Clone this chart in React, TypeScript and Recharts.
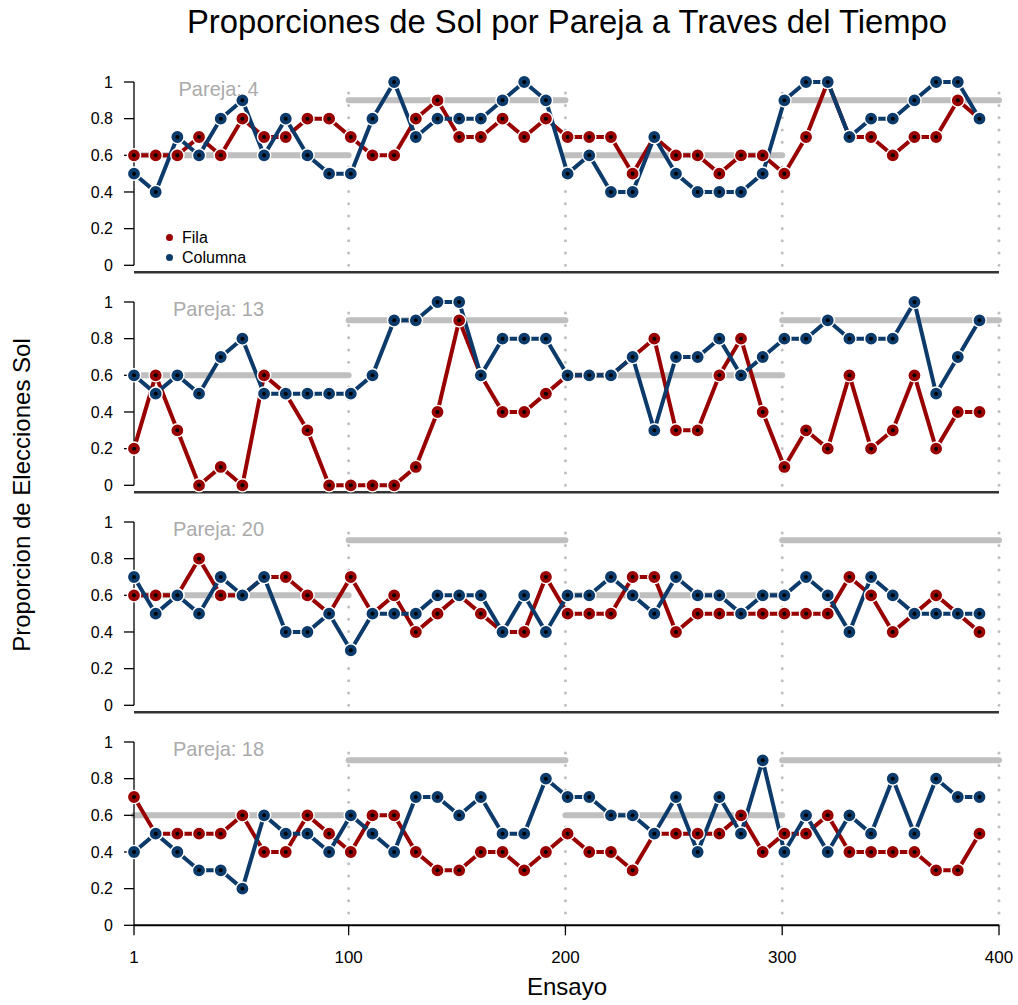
import React from "react";
import {
  Legend,
  Line,
  LineChart,
  ReferenceDot,
  ReferenceLine,
  XAxis,
  YAxis,
} from "recharts";

const FONT = '"Liberation Sans", Arial, Helvetica, sans-serif';
const RED = "#990000";
const BLUE = "#0b3a6b";
const GREY = "#bfbfbf";

// trial number of each block of 10
const TRIALS = [
  1, 11, 21, 31, 41, 51, 61, 71, 81, 91, 101, 111, 121, 131, 141, 151, 161, 171, 181, 191,
  201, 211, 221, 231, 241, 251, 261, 271, 281, 291, 301, 311, 321, 331, 341, 351, 361, 371, 381, 391,
];

const PAREJAS = [4, 13, 20, 18];
const SERIES_ORDER = ["Fila", "Columna"];

const FILA_4 = [
  0.6, 0.6, 0.6, 0.7, 0.6, 0.8, 0.7, 0.7, 0.8, 0.8, 0.7, 0.6, 0.6, 0.8, 0.9, 0.7, 0.7, 0.8, 0.7, 0.8,
  0.7, 0.7, 0.7, 0.5, 0.7, 0.6, 0.6, 0.5, 0.6, 0.6, 0.5, 0.7, 1.0, 0.7, 0.7, 0.6, 0.7, 0.7, 0.9, 0.8,
];
const COLUMNA_4 = [
  0.5, 0.4, 0.7, 0.6, 0.8, 0.9, 0.6, 0.8, 0.6, 0.5, 0.5, 0.8, 1.0, 0.7, 0.8, 0.8, 0.8, 0.9, 1.0, 0.9,
  0.5, 0.6, 0.4, 0.4, 0.7, 0.5, 0.4, 0.4, 0.4, 0.5, 0.9, 1.0, 1.0, 0.7, 0.8, 0.8, 0.9, 1.0, 1.0, 0.8,
];

const FILA_13 = [
  0.2, 0.6, 0.3, 0, 0.1, 0, 0.6, 0.5, 0.3, 0, 0, 0, 0, 0.1, 0.4, 0.9, 0.6, 0.4, 0.4, 0.5,
  0.6, 0.6, 0.6, 0.7, 0.8, 0.3, 0.3, 0.6, 0.8, 0.4, 0.1, 0.3, 0.2, 0.6, 0.2, 0.3, 0.6, 0.2, 0.4, 0.4,
];
const COLUMNA_13 = [
  0.6, 0.5, 0.6, 0.5, 0.7, 0.8, 0.5, 0.5, 0.5, 0.5, 0.5, 0.6, 0.9, 0.9, 1.0, 1.0, 0.6, 0.8, 0.8, 0.8,
  0.6, 0.6, 0.6, 0.7, 0.3, 0.7, 0.7, 0.8, 0.6, 0.7, 0.8, 0.8, 0.9, 0.8, 0.8, 0.8, 1.0, 0.5, 0.7, 0.9,
];

const FILA_20 = [
  0.6, 0.6, 0.6, 0.8, 0.6, 0.6, 0.7, 0.7, 0.6, 0.5, 0.7, 0.5, 0.6, 0.4, 0.5, 0.6, 0.5, 0.4, 0.4, 0.7,
  0.5, 0.5, 0.5, 0.7, 0.7, 0.4, 0.5, 0.5, 0.5, 0.5, 0.5, 0.5, 0.5, 0.7, 0.6, 0.4, 0.5, 0.6, 0.5, 0.4,
];
const COLUMNA_20 = [
  0.7, 0.5, 0.6, 0.5, 0.7, 0.6, 0.7, 0.4, 0.4, 0.5, 0.3, 0.5, 0.5, 0.5, 0.6, 0.6, 0.6, 0.4, 0.6, 0.4,
  0.6, 0.6, 0.7, 0.6, 0.5, 0.7, 0.6, 0.6, 0.5, 0.6, 0.6, 0.7, 0.6, 0.4, 0.7, 0.6, 0.5, 0.5, 0.5, 0.5,
];

const FILA_18 = [
  0.7, 0.5, 0.5, 0.5, 0.5, 0.6, 0.4, 0.4, 0.6, 0.5, 0.4, 0.6, 0.6, 0.4, 0.3, 0.3, 0.4, 0.4, 0.3, 0.4,
  0.5, 0.4, 0.4, 0.3, 0.5, 0.5, 0.5, 0.5, 0.6, 0.4, 0.5, 0.5, 0.6, 0.4, 0.4, 0.4, 0.4, 0.3, 0.3, 0.5,
];
const COLUMNA_18 = [
  0.4, 0.5, 0.4, 0.3, 0.3, 0.2, 0.6, 0.5, 0.5, 0.4, 0.6, 0.5, 0.4, 0.7, 0.7, 0.6, 0.7, 0.5, 0.5, 0.8,
  0.7, 0.7, 0.6, 0.6, 0.5, 0.7, 0.4, 0.7, 0.5, 0.9, 0.4, 0.6, 0.4, 0.6, 0.5, 0.8, 0.5, 0.8, 0.7, 0.7,
];

const FILA = [FILA_4, FILA_13, FILA_20, FILA_18];
const COLUMNA = [COLUMNA_4, COLUMNA_13, COLUMNA_20, COLUMNA_18];

// optimal proportion per block of 100 trials
const BLOCK_START = [1, 100, 200, 300];
const BLOCK_END = [100, 200, 300, 400];
const OPTIMO = [0.6, 0.9, 0.6, 0.9];
const BLOCK_LINES = [100, 200, 300, 400];

const X_TICKS = [1, 100, 200, 300, 400];
const Y_TICKS = [0, 0.2, 0.4, 0.6, 0.8, 1];

const PANEL_STEP = 220;
const PLOT_TOP = 61.7;

function dotRenderer(color: string) {
  return (props: any) => {
    const { cx, cy, index } = props;
    if (cx == null || cy == null) return <g key={`${color}-e-${index}`} />;
    return (
      <g key={`${color}-${index}`}>
        <circle cx={cx} cy={cy} r={6.6} fill={color} stroke="#fff" strokeWidth={1.4} />
        <circle cx={cx} cy={cy} r={2} fill="#000" />
      </g>
    );
  };
}

function LegendBox({ payload }: any) {
  const items = [...(payload ?? [])].sort(
    (a: any, b: any) => SERIES_ORDER.indexOf(a.value) - SERIES_ORDER.indexOf(b.value)
  );
  return (
    <div style={{ fontFamily: FONT, fontSize: 16, lineHeight: "20px", color: "#000" }}>
      {items.map((p: any) => (
        <div key={p.value} style={{ display: "flex", alignItems: "center" }}>
          <span
            style={{
              width: 7,
              height: 7,
              borderRadius: 4,
              background: p.color,
              marginRight: 9,
              display: "inline-block",
            }}
          />
          {p.value}
        </div>
      ))}
    </div>
  );
}

type PanelProps = { index: number };

function Panel({ index }: PanelProps) {
  const last = index === PAREJAS.length - 1;
  const data = TRIALS.map((x, i) => ({ x, fila: FILA[index][i], columna: COLUMNA[index][i] }));
  const height = last ? 20 + 183.3 + 50 : 20 + 183.3 + 15;

  return (
    <div style={{ position: "absolute", left: 0, top: PLOT_TOP + PANEL_STEP * index }}>
      <LineChart
        width={1018}
        height={height}
        data={data}
        margin={{ top: 20, right: 19, bottom: last ? 0 : 15, left: 0 }}
      >
        <XAxis
          dataKey="x"
          type="number"
          domain={[1, 400]}
          ticks={X_TICKS}
          hide={!last}
          height={50}
          tickSize={10}
          tickMargin={16}
          tick={{ fontSize: 17, fill: "#000" }}
          axisLine={{ stroke: "#000", strokeWidth: 2 }}
          tickLine={{ stroke: "#000", strokeWidth: 1.3 }}
          interval={0}
        />
        <YAxis
          type="number"
          domain={[0, 1]}
          ticks={Y_TICKS}
          width={134}
          tickSize={10}
          tickMargin={11}
          tick={{ fontSize: 16, fill: "#000" }}
          axisLine={{ stroke: "#000", strokeWidth: 1.3 }}
          tickLine={{ stroke: "#000", strokeWidth: 1.3 }}
          interval={0}
        />
        {!last && (
          <ReferenceLine
            y={-0.038}
            ifOverflow="visible"
            stroke="#333"
            strokeWidth={2.5}
          />
        )}
        {BLOCK_LINES.map((b) => (
          <ReferenceLine
            key={`v${b}`}
            segment={[
              { x: b, y: 0 },
              { x: b, y: 0.96 },
            ]}
            ifOverflow="visible"
            stroke={GREY}
            strokeWidth={3}
            strokeDasharray="0 12.3"
            strokeLinecap="round"
          />
        ))}
        {OPTIMO.map((o, i) => (
          <ReferenceLine
            key={`h${i}`}
            segment={[
              { x: BLOCK_START[i], y: o },
              { x: BLOCK_END[i], y: o },
            ]}
            ifOverflow="visible"
            stroke={GREY}
            strokeWidth={6}
            strokeLinecap="round"
          />
        ))}
        <ReferenceDot
          x={40}
          y={0.96}
          r={0}
          fill="none"
          stroke="none"
          ifOverflow="visible"
          label={{
            value: `Pareja: ${PAREJAS[index]}`,
            position: "center",
            fill: "#aaaaaa",
            fontSize: 20,
          }}
        />
        <Line
          dataKey="fila"
          name="Fila"
          stroke={RED}
          strokeWidth={4}
          strokeLinejoin="round"
          dot={dotRenderer(RED)}
          activeDot={false}
          isAnimationActive={false}
        />
        <Line
          dataKey="columna"
          name="Columna"
          stroke={BLUE}
          strokeWidth={4}
          strokeLinejoin="round"
          dot={dotRenderer(BLUE)}
          activeDot={false}
          isAnimationActive={false}
        />
        {index === 0 && (
          <Legend
            layout="vertical"
            align="center"
            verticalAlign="middle"
            content={<LegendBox />}
            wrapperStyle={{ left: 166, top: 166, width: 120, right: "auto", bottom: "auto" }}
          />
        )}
      </LineChart>
    </div>
  );
}

export default function App() {
  return (
    <div
      style={{
        position: "absolute",
        left: 0,
        top: 0,
        width: 1018,
        height: 1005,
        background: "#fff",
        fontFamily: FONT,
      }}
    >
      <div
        style={{
          position: "absolute",
          left: 167,
          top: 5,
          width: 800,
          textAlign: "center",
          fontSize: 32.8,
          lineHeight: "33px",
          whiteSpace: "nowrap",
        }}
      >
        Proporciones de Sol por Pareja a Traves del Tiempo
      </div>
      {PAREJAS.map((p, i) => (
        <Panel key={p} index={i} />
      ))}
      <div
        style={{
          position: "absolute",
          left: 22 - 200,
          top: 495 - 15,
          width: 400,
          height: 30,
          lineHeight: "30px",
          fontSize: 24,
          textAlign: "center",
          transform: "rotate(-90deg)",
          whiteSpace: "nowrap",
        }}
      >
        Proporcion de Elecciones Sol
      </div>
      <div
        style={{
          position: "absolute",
          left: 367,
          top: 974.7,
          width: 400,
          textAlign: "center",
          fontSize: 24,
          lineHeight: "24px",
        }}
      >
        Ensayo
      </div>
    </div>
  );
}
